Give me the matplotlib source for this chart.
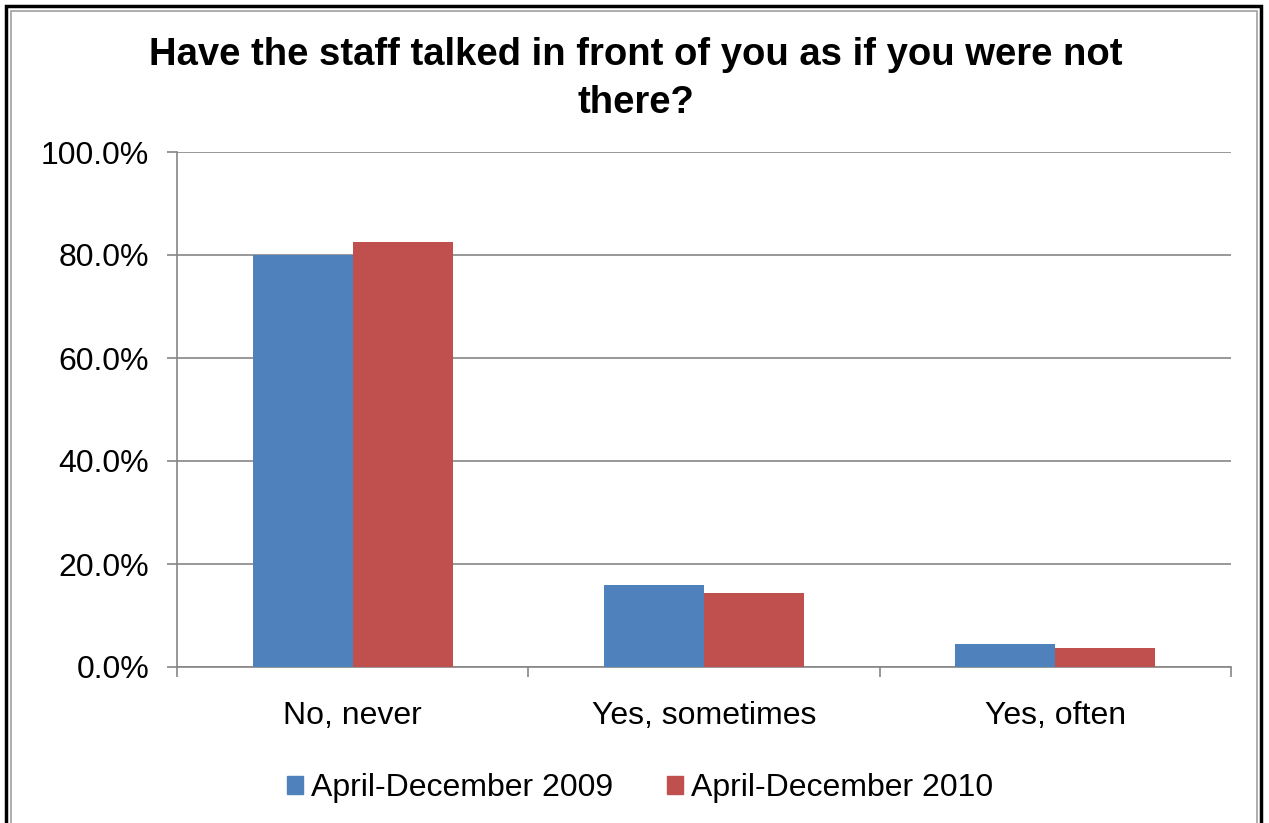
import matplotlib
matplotlib.use('Agg')
import matplotlib.pyplot as plt
import numpy as np
from matplotlib.patches import Rectangle, Patch
from matplotlib.ticker import FuncFormatter

plt.rcParams['font.family'] = ['Liberation Sans', 'DejaVu Sans']

# data
categories = ['No, never', 'Yes, sometimes', 'Yes, often']
series_names = ['April-December 2009', 'April-December 2010']
values_2009 = [80.0, 15.9, 4.5]
values_2010 = [82.5, 14.4, 3.7]
colors = ['#4F81BD', '#C0504D']
title = 'Have the staff talked in front of you as if you were not\nthere?'

fig = plt.figure(figsize=(12.69, 8.23), dpi=100)
ax = fig.add_axes([177 / 1269, 1 - 667 / 823, (1231 - 177) / 1269, (667 - 152) / 823])

x = np.arange(len(categories))
w = 0.285
ax.bar(x - w / 2, values_2009, w, color=colors[0], zorder=3)
ax.bar(x + w / 2, values_2010, w, color=colors[1], zorder=3)

ax.set_xlim(-0.5, 2.5)
ax.set_ylim(0, 100)
ax.set_yticks(np.arange(0, 101, 20))
ax.yaxis.set_major_formatter(FuncFormatter(lambda v, p: '%.1f%%' % v))
ax.yaxis.grid(True, color='#868686', linewidth=1.2, zorder=0)
ax.tick_params(axis='y', length=7, width=1.2, color='#868686', pad=13, labelsize=23)

ax.set_xticks(x)
ax.set_xticklabels(categories)
ax.set_xticks([-0.5, 0.5, 1.5, 2.5], minor=True)
ax.tick_params(axis='x', which='major', length=0, pad=24.5, labelsize=23)
ax.tick_params(axis='x', which='minor', length=7, width=1.2, color='#868686')

for side in ['top', 'right']:
    ax.spines[side].set_visible(False)
for side in ['left', 'bottom']:
    ax.spines[side].set_color('#868686')
    ax.spines[side].set_linewidth(1.2)

fig.text(636 / 1269, 1 - 79 / 823, title, ha='center', va='center',
         fontsize=27.5, fontweight='bold', linespacing=1.42)

handles = [Patch(color=c) for c in colors]
fig.legend(handles, series_names, loc='center', bbox_to_anchor=(640 / 1269, 1 - 788 / 823),
           ncol=2, frameon=False, fontsize=23, handlelength=0.5, handleheight=0.5,
           handletextpad=0.25, columnspacing=1.7)

# outer frame of the chart
fig.patches.append(Rectangle((6.5 / 1269, -0.1), (1261 - 6.5) / 1269, 1.1 - 6.5 / 823,
                             transform=fig.transFigure, fill=False, edgecolor='black', linewidth=2.5))
fig.patches.append(Rectangle((10.5 / 1269, -0.1), (1257 - 10.5) / 1269, 1.1 - 10.5 / 823,
                             transform=fig.transFigure, fill=False, edgecolor='#A0A0A0', linewidth=1.2))

fig.savefig('out.png', dpi=100)
